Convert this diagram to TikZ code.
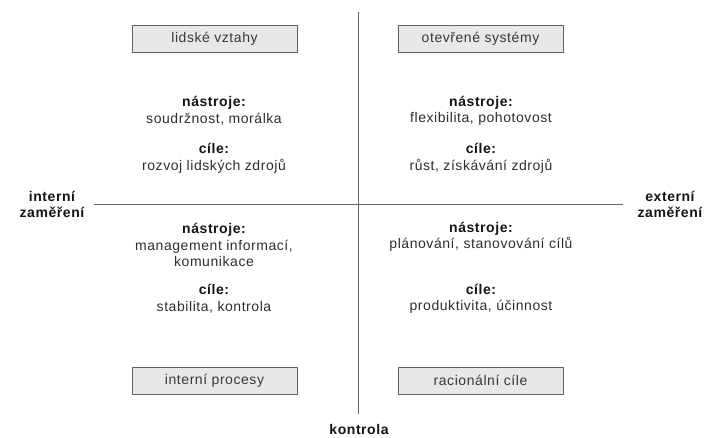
\documentclass[tikz,border=0pt]{standalone}
\usepackage{fontspec}
\setmainfont{Liberation Sans}[LetterSpace=4]
\begin{document}
\begin{tikzpicture}[x=1pt,y=-1pt,
  txt/.style={font=\fontsize{14}{16.5}\selectfont, text=black!82, align=center, inner sep=0pt},
  head/.style={txt, font=\fontsize{14}{16.5}\selectfont\bfseries, text=black!92},
  quadbox/.style={draw=black!62, line width=1pt, fill=black!9, minimum width=165, minimum height=27, inner sep=0pt, font=\fontsize{14}{16.5}\selectfont, text=black!78},
  axis/.style={draw=black!60, line width=1pt}]
\useasboundingbox (0,0) rectangle (706,437);

% axes
\coordinate (vtop) at (358.5,12);
\coordinate (vbot) at (358.5,414);
\coordinate (hleft) at (94,204.5);
\coordinate (hright) at (623,204.5);
\draw[axis] (vtop) -- (vbot);
\draw[axis] (hleft) -- (hright);

% quadrant titles
\node[quadbox] (lv) at (214.5,39) {lidské vztahy};
\node[quadbox] (os) at (480.5,39) {otevřené systémy};
\node[quadbox] (ip) at (214.5,380.5) {interní procesy};
\node[quadbox] (rc) at (480.5,380.5) {racionální cíle};

% axis labels
\node[head] (intz) at (52,204.5) {interní\\zaměření};
\node[head] (extz) at (670,204.5) {externí\\zaměření};
\node[head] (kon) at (359,429) {kontrola};

% top-left
\node[txt] (n1) at (214,111) {\textbf{\color{black!92}nástroje:}\\soudržnost, morálka};
\node[txt] (c1) at (214,158.5) {\textbf{\color{black!92}cíle:}\\rozvoj lidských zdrojů};
% top-right
\node[txt] (n2) at (481,111) {\textbf{\color{black!92}nástroje:}\\flexibilita, pohotovost};
\node[txt] (c2) at (481,158.5) {\textbf{\color{black!92}cíle:}\\růst, získávání zdrojů};
% bottom-left
\node[txt] (n3) at (214,245) {\textbf{\color{black!92}nástroje:}\\management informací,\\komunikace};
\node[txt] (c3) at (214,299) {\textbf{\color{black!92}cíle:}\\stabilita, kontrola};
% bottom-right
\node[txt] (n4) at (481,237) {\textbf{\color{black!92}nástroje:}\\plánování, stanovování cílů};
\node[txt] (c4) at (481,299) {\textbf{\color{black!92}cíle:}\\produktivita, účinnost};
\end{tikzpicture}
\end{document}
